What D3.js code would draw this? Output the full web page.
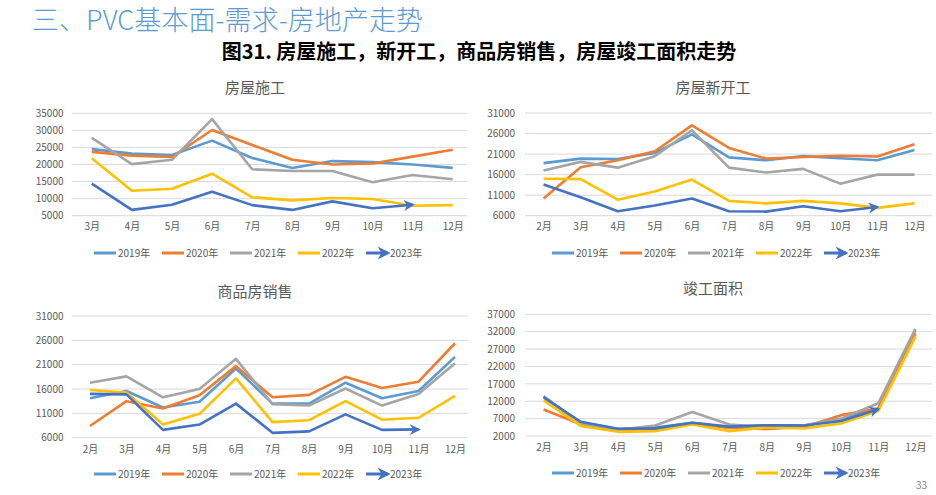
<!DOCTYPE html>
<html><head><meta charset="utf-8">
<script src="https://cdn.jsdelivr.net/npm/d3@7"></script>
<style>
body{margin:0;background:#fff;}
svg{display:block;font-family:"Noto Sans CJK SC","Noto Sans",sans-serif;}
</style></head><body>
<svg id="c" width="936" height="495"></svg>
<script>
// ---------- data ----------
const seriesNames = ["2019年","2020年","2021年","2022年","2023年"];
const seriesColors = ["#5B9BD5","#ED7D31","#A5A5A5","#FFC000","#4472C4"];

const monthsA = ["3月","4月","5月","6月","7月","8月","9月","10月","11月","12月"];
const monthsB = ["2月","3月","4月","5月","6月","7月","8月","9月","10月","11月","12月"];

// 房屋施工 (3月-12月)
const shigong2019 = [24500,23200,22800,27000,21900,19000,21000,20700,20000,19000];
const shigong2020 = [23700,22600,22200,30100,25700,21400,20000,20300,22300,24300];
const shigong2021 = [27800,20100,21400,33300,18600,18100,18100,14800,16900,15700];
const shigong2022 = [21800,12300,12900,17300,10400,9500,10200,9900,7900,8100];
const shigong2023 = [14400,6700,8200,12000,8100,6700,9200,7200,8200];

// 房屋新开工 (2月-12月)
const xinkaigong2019 = [18800,19900,19800,21300,25800,20200,19500,20500,20000,19500,22000];
const xinkaigong2020 = [10200,17800,19500,21700,28000,22500,19900,20300,20600,20400,23400];
const xinkaigong2021 = [17000,19100,17700,20500,26800,17700,16500,17400,13800,16000,16000];
const xinkaigong2022 = [15000,14900,9900,11900,14800,9600,9000,9600,9000,7900,9000];
const xinkaigong2023 = [13600,10500,7100,8500,10200,7100,7000,8300,7100,8100];

// 商品房销售 (2月-12月)
const xiaoshou2019 = [14100,15600,12200,13400,20200,13000,13000,17300,14100,15600,22600];
const xiaoshou2020 = [8400,13500,12000,14700,20700,14300,14800,18500,16200,17500,25400];
const xiaoshou2021 = [17300,18600,14300,16000,22200,12900,12600,16100,12600,15000,21300];
const xiaoshou2022 = [15800,15300,8700,10900,18200,9200,9600,13500,9700,10100,14600];
const xiaoshou2023 = [15000,14900,7600,8700,13000,7000,7300,10800,7600,7700];

// 竣工面积 (2月-12月)
const jungong2019 = [13300,5800,4000,4400,5800,4400,5100,5000,6800,9900,32500];
const jungong2020 = [9600,5400,3700,4000,5500,4300,4000,4600,8000,9900,31500];
const jungong2021 = [13500,5400,3800,5000,8900,5300,4600,5000,7000,11400,32800];
const jungong2022 = [12200,4900,3200,3400,5300,3400,4500,4200,5600,9200,30600];
const jungong2023 = [13100,6100,4100,4200,5800,4700,5100,5000,6300,9700];

const ticksShigong = [5000,10000,15000,20000,25000,30000,35000];
const ticksXinkaigong = [6000,11000,16000,21000,26000,31000];
const ticksXiaoshou = [6000,11000,16000,21000,26000,31000];
const ticksJungong = [2000,7000,12000,17000,22000,27000,32000,37000];

// ---------- drawing ----------
const svg = d3.select("#c");
const defs = svg.append("defs");
function addMarker(id, w, h){
  defs.append("marker").attr("id",id).attr("viewBox","0 0 10 10")
    .attr("refX",8).attr("refY",5).attr("markerUnits","userSpaceOnUse")
    .attr("markerWidth",w).attr("markerHeight",h).attr("orient","auto")
    .append("path").attr("d","M0,0 L10,5 L0,10 L3,5 Z").attr("fill",seriesColors[4]);
}
addMarker("arr",11,11);
addMarker("arrL",13,13);

svg.append("text").attr("x",32).attr("y",30).attr("fill","#5B9BD5")
  .attr("font-size",27).attr("font-weight",300).attr("textLength",391).attr("lengthAdjust","spacing")
  .text("三、PVC基本面-需求-房地产走势");
svg.append("text").attr("x",479).attr("y",59).attr("text-anchor","middle").attr("fill","#000")
  .attr("font-size",20).attr("font-weight","bold").text("图31. 房屋施工，新开工，商品房销售，房屋竣工面积走势");
svg.append("text").attr("x",916).attr("y",489).attr("fill","#7f7f7f").attr("font-size",10).text("33");

function panel(p){
  const g = svg.append("g");
  const x = d3.scalePoint().domain(p.cats).range([p.x0,p.x1]).padding(0.5);
  const y = d3.scaleLinear().domain([p.ticks[0],p.ticks[p.ticks.length-1]]).range([p.yb,p.yt]);
  // gridlines
  g.append("g").selectAll("line").data(p.ticks).join("line")
    .attr("x1",p.x0).attr("x2",p.gx1).attr("y1",d=>y(d)).attr("y2",d=>y(d))
    .attr("stroke","#d9d9d9").attr("stroke-width",1);
  // y labels
  const ya = d3.axisLeft(y).tickValues(p.ticks).tickSize(0).tickPadding(0).tickFormat(d3.format("d"));
  const yg = g.append("g").attr("transform",`translate(${p.lx},0)`).call(ya);
  yg.select(".domain").remove();
  yg.selectAll("text").attr("font-size",10).attr("fill","#595959").attr("font-family","Noto Sans CJK SC");
  // x labels
  const xa = d3.axisBottom(x).tickSize(0).tickPadding(0);
  const xg = g.append("g").attr("transform",`translate(0,${p.xly})`).call(xa);
  xg.select(".domain").remove();
  xg.selectAll("text").attr("font-size",10).attr("fill","#595959").attr("font-family","Noto Sans CJK SC");
  // title
  g.append("text").attr("x",p.tx).attr("y",p.ty).attr("text-anchor","middle")
    .attr("font-size",15).attr("fill","#595959").text(p.title);
  // lines
  const line = d3.line().x((d,i)=>x(p.cats[i])).y(d=>y(d));
  p.series.forEach((s,k)=>{
    g.append("path").datum(s).attr("d",line).attr("fill","none")
      .attr("stroke",seriesColors[k]).attr("stroke-width",2.6)
      .attr("stroke-linejoin","round")
      .attr("marker-end", k===4 ? "url(#arr)" : null);
  });
  // legend
  const lg = g.append("g");
  seriesNames.forEach((n,k)=>{
    const lx = p.legx + k*68;
    lg.append("line").attr("x1",lx).attr("x2",lx+22).attr("y1",p.legy).attr("y2",p.legy)
      .attr("stroke",seriesColors[k]).attr("stroke-width",3)
      .attr("marker-end", k===4 ? "url(#arrL)" : null);
    lg.append("text").attr("x",lx+24).attr("y",p.legy).attr("dy","0.35em")
      .attr("font-size",10).attr("fill","#595959").text(n);
  });
}

panel({title:"房屋施工",cats:monthsA,ticks:ticksShigong,
  series:[shigong2019,shigong2020,shigong2021,shigong2022,shigong2023],
  x0:71.7,x1:472.8,gx1:467,yt:113.3,yb:215.7,lx:63.5,xly:223,tx:255,ty:93,legx:94,legy:253});
panel({title:"房屋新开工",cats:monthsB,ticks:ticksXinkaigong,
  series:[xinkaigong2019,xinkaigong2020,xinkaigong2021,xinkaigong2022,xinkaigong2023],
  x0:525,x1:933,gx1:932,yt:113,yb:215.7,lx:515,xly:223,tx:713,ty:93,legx:552,legy:253});
panel({title:"商品房销售",cats:monthsB,ticks:ticksXiaoshou,
  series:[xiaoshou2019,xiaoshou2020,xiaoshou2021,xiaoshou2022,xiaoshou2023],
  x0:71.7,x1:473.3,gx1:468,yt:316,yb:437.7,lx:63.5,xly:446,tx:255,ty:297,legx:94,legy:474});
panel({title:"竣工面积",cats:monthsB,ticks:ticksJungong,
  series:[jungong2019,jungong2020,jungong2021,jungong2022,jungong2023],
  x0:525,x1:934,gx1:932,yt:314.3,yb:436,lx:515,xly:444,tx:713,ty:294,legx:552,legy:473});
</script>
</body></html>
